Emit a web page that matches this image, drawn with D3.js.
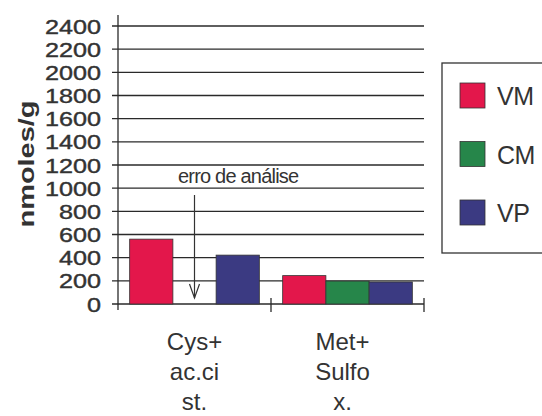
<!DOCTYPE html>
<html><head><meta charset="utf-8">
<script src="https://cdn.jsdelivr.net/npm/d3@7"></script>
<style>body{margin:0;background:#fff}svg{display:block}text{font-family:"Liberation Sans",Arial,sans-serif;fill:#333}</style>
</head><body>
<script>
const categories = [["Cys+","ac.ci","st."],["Met+","Sulfo","x."]];
const seriesNames = ["VM","CM","VP"];
const VM = [560, 245];
const CM = [null, 198];
const VP = [422, 190];
const yTicks = [0,200,400,600,800,1000,1200,1400,1600,1800,2000,2200,2400];
const colors = ["#e3174b","#26864a","#3b3a82"];
const note = "erro de análise";

const W=542,H=416;
const svg=d3.select("body").append("svg").attr("width",W).attr("height",H);
const x0=d3.scaleBand().domain([0,1]).range([118,424]);
const x1=d3.scaleBand().domain(seriesNames).range([0,x0.bandwidth()]).paddingOuter(0.27).paddingInner(0);
const y=d3.scaleLinear().domain([0,2400]).range([304,26]);

// gridlines
svg.append("g").selectAll("line").data(yTicks).join("line")
 .attr("x1",112).attr("x2",424).attr("y1",d=>y(d)).attr("y2",d=>y(d))
 .attr("stroke","#2a2a2a").attr("stroke-width",1.3);
// y axis labels
svg.append("g").selectAll("text").data(yTicks).join("text")
 .attr("x",101).attr("y",d=>y(d)+7.5).attr("text-anchor","end")
 .attr("font-size",20).attr("textLength",d=>String(d).length*14).attr("lengthAdjust","spacingAndGlyphs")
 .attr("stroke","#333").attr("stroke-width",0.4).text(d=>d);
// axis line
svg.append("line").attr("x1",118).attr("x2",118).attr("y1",15).attr("y2",310).attr("stroke","#2a2a2a").attr("stroke-width",1.3);
// x ticks at boundaries
svg.append("g").selectAll("line").data([x0(1),x0(1)+x0.bandwidth()]).join("line")
 .attr("x1",d=>d).attr("x2",d=>d).attr("y1",298).attr("y2",312).attr("stroke","#2a2a2a").attr("stroke-width",1.3);

// bars
const series=[VM,CM,VP];
series.forEach((vals,si)=>{
  svg.append("g").selectAll("rect").data(vals.map((v,i)=>({v,i})).filter(d=>d.v!=null)).join("rect")
   .attr("x",d=>x0(d.i)+x1(seriesNames[si])).attr("width",x1.bandwidth())
   .attr("y",d=>y(d.v)).attr("height",d=>y(0)-y(d.v))
   .attr("fill",colors[si]).attr("stroke","#333").attr("stroke-width",0.8);
});

// annotation
const ax=x0(0)+x1("CM")+x1.bandwidth()/2;
svg.append("text").attr("x",178).attr("y",183).attr("font-size",20).attr("letter-spacing",-0.8).text(note);
svg.append("line").attr("x1",ax).attr("x2",ax).attr("y1",195).attr("y2",298).attr("stroke","#333").attr("stroke-width",1.2);
svg.append("path").attr("d",`M${ax-5},${284}L${ax},${298}L${ax+5},${284}`).attr("fill","none").attr("stroke","#333").attr("stroke-width",1.2);

// category labels
categories.forEach((lines,i)=>{
  const cx=x0(i)+x0.bandwidth()/2-(i===1?5:0);
  lines.forEach((t,j)=>{
    svg.append("text").attr("x",cx).attr("y",350+j*30).attr("text-anchor","middle").attr("font-size",24).text(t);
  });
});

// y title
svg.append("text").attr("transform","translate(34,164) rotate(-90)").attr("text-anchor","middle")
 .attr("font-size",22).attr("font-weight","bold").attr("textLength",127).attr("lengthAdjust","spacingAndGlyphs").text("nmoles/g");

// legend
svg.append("rect").attr("x",442).attr("y",63).attr("width",110).attr("height",190).attr("fill","none").attr("stroke","#333").attr("stroke-width",1.3);
const lg=svg.append("g").selectAll("g").data(seriesNames).join("g").attr("transform",(d,i)=>`translate(460,${83+i*58.5})`);
lg.append("rect").attr("width",25).attr("height",25).attr("fill",(d,i)=>colors[i]).attr("stroke","#333").attr("stroke-width",0.8);
lg.append("text").attr("x",37).attr("y",22).attr("font-size",25).attr("letter-spacing",-0.5).text(d=>d);
</script>
</body></html>
